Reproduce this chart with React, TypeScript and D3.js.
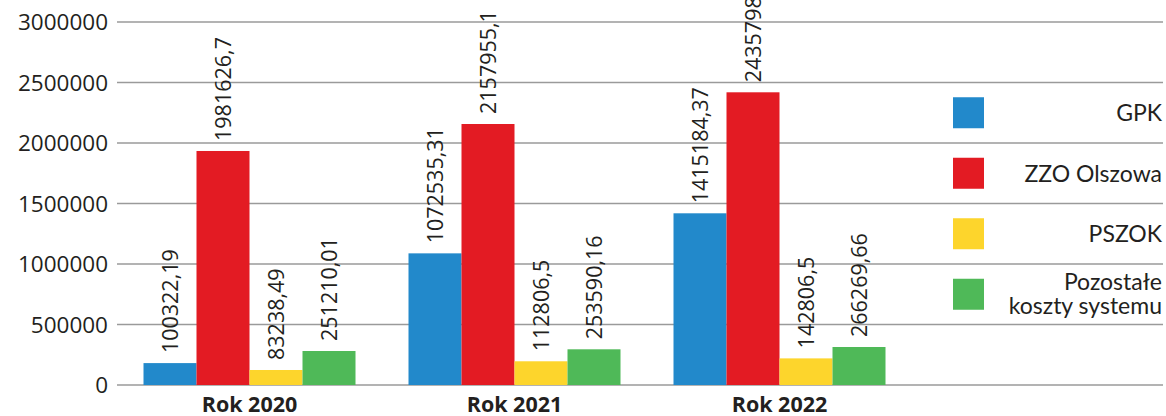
import React from "react";
import * as d3 from "d3";

const categories = ["Rok 2020", "Rok 2021", "Rok 2022"];
const seriesNames = ["GPK", "ZZO Olszowa", "PSZOK", "Pozostałe koszty systemu"];
const seriesColors = ["#2289cb", "#e31b23", "#fdd52c", "#4fb958"];
// bar heights as drawn in the picture
const gpkValues = [181000, 1088000, 1419000];
const zzoValues = [1934000, 2157000, 2419000];
const pszokValues = [124000, 196000, 220000];
const otherValues = [281000, 295000, 314000];
// data labels as printed
const gpkLabels = ["100322,19", "1072535,31", "1415184,37"];
const zzoLabels = ["1981626,7", "2157955,1", "2435798,54"];
const pszokLabels = ["83238,49", "112806,5", "142806,5"];
const otherLabels = ["251210,01", "253590,16", "266269,66"];
const yTicks = [0, 500000, 1000000, 1500000, 2000000, 2500000, 3000000];

const seriesValues = [gpkValues, zzoValues, pszokValues, otherValues];
const seriesLabels = [gpkLabels, zzoLabels, pszokLabels, otherLabels];

export default function App() {
  const W = 1166, H = 416;
  const left = 117, gridRight = 1163, plotRight = 912;
  const y = d3.scaleLinear().domain([0, 3000000]).range([385, 22]);
  const x0 = d3.scaleBand<string>().domain(categories).range([left, plotRight]).paddingInner(0.2).paddingOuter(0.1);
  const x1 = d3.scaleBand<number>().domain(d3.range(seriesNames.length)).range([0, x0.bandwidth()]);
  const legendCenters = [1, 2, 3, 4].map((i) => (y(3000000 - 500000 * i) + y(3000000 - 500000 * (i + 1))) / 2);
  const textColor = "#231f20";

  return (
    <svg width={W} height={H} style={{ position: "absolute", left: 0, top: 0, background: "#fff" }}>
      {yTicks.map((t) => (
        <g key={t}>
          <line x1={left} x2={gridRight} y1={y(t)} y2={y(t)} stroke="#9a9a9a" strokeWidth={1.6} />
          <text x={108} y={y(t)} dy="0.36em" textAnchor="end" fontFamily="'Open Sans'" fontSize={22.5} fill={textColor}>
            {t}
          </text>
        </g>
      ))}
      {categories.map((c, ci) => (
        <g key={c} transform={`translate(${x0(c)},0)`}>
          {seriesValues.map((vals, si) => {
            const bx = x1(si)!;
            const bw = x1.bandwidth();
            const top = y(vals[ci]);
            return (
              <g key={si}>
                <rect x={bx} y={top} width={bw} height={y(0) - top} fill={seriesColors[si]} />
                <text
                  transform={`translate(${bx + bw / 2},${top - 10}) rotate(-90)`}
                  dy="0.36em"
                  textAnchor="start"
                  fontFamily="'Open Sans'"
                  fontSize={21.5}
                  fill={textColor}
                >
                  {seriesLabels[si][ci]}
                </text>
              </g>
            );
          })}
          <text x={x0.bandwidth() / 2} y={412} textAnchor="middle" fontFamily="'Open Sans'" fontWeight="bold" fontSize={21.5} fill={textColor}>
            {c}
          </text>
        </g>
      ))}
      {seriesNames.map((name, i) => {
        const cy = legendCenters[i];
        const lines = i === 3 ? ["Pozostałe", "koszty systemu"] : [name];
        return (
          <g key={name}>
            <rect x={953} y={cy - 15.5} width={31} height={31} fill={seriesColors[i]} />
            {lines.length === 1 ? (
              <text x={1162} y={cy + 8.5} textAnchor="end" fontFamily="Lato" fontSize={23} fill={textColor}>
                {name}
              </text>
            ) : (
              <g>
                <text x={1162} y={cy - 4} textAnchor="end" fontFamily="Lato" fontSize={23} fill={textColor}>
                  {lines[0]}
                </text>
                <text x={1162} y={cy + 20} textAnchor="end" fontFamily="Lato" fontSize={23} fill={textColor}>
                  {lines[1]}
                </text>
              </g>
            )}
          </g>
        );
      })}
    </svg>
  );
}
